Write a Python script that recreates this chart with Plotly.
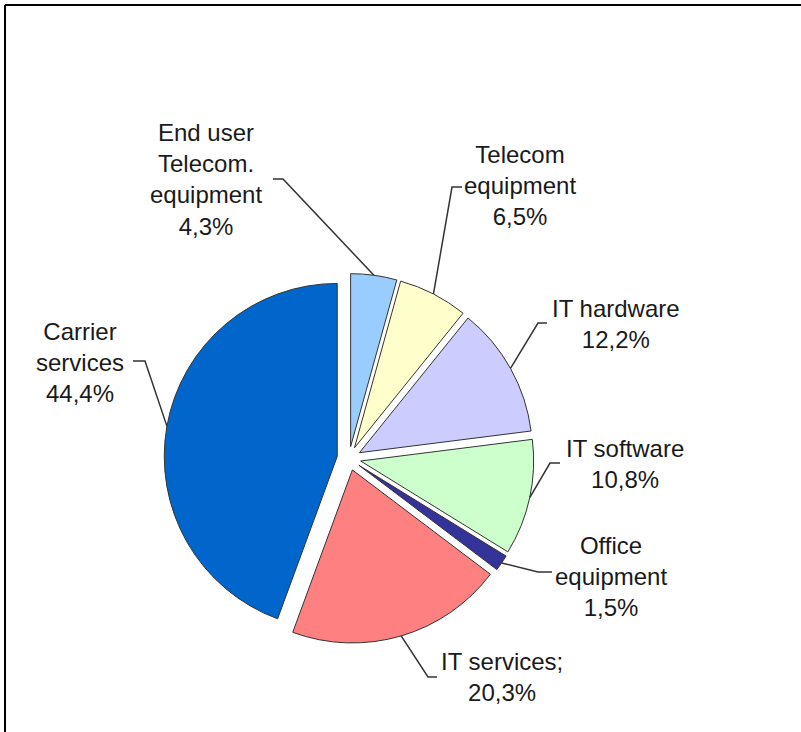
import math
import plotly.graph_objects as go

# ---- data ----
categories = ["End user Telecom. equipment", "Telecom equipment", "IT hardware",
              "IT software", "Office equipment", "IT services", "Carrier services"]
values = [4.3, 6.5, 12.2, 10.8, 1.5, 20.3, 44.4]
label_lines = [["End user", "Telecom.", "equipment"], ["Telecom", "equipment"],
               ["IT hardware"], ["IT software"], ["Office", "equipment"],
               ["IT services;"], ["Carrier", "services"]]
colors = ["#99CCFF", "#FFFFCC", "#CCCCFF", "#CCFFCC", "#333399", "#FF8080", "#0066CC"]

# ---- layout constants (pixels) ----
W, H = 801, 732
CX, CY = 349, 458.5       # pie centre
R = 173                   # pie radius
PULL = 0.069              # explode fraction
# label centre and leader (label end, knee) positions
label_pos = [(206, 179), (520, 186), (616, 324), (625, 464), (611, 576), (502, 677), (80, 362)]
leader_pts = [((273, 179), (283, 179)), ((462, 187), (452, 187)), ((547, 323), (538, 323)),
              ((560, 463), (550, 463)), ((552, 572), (538, 572)), ((437, 677), (428, 677)),
              ((133, 361), (145, 361))]

def px(x):
    return x / W

def py(y):
    return 1 - y / H

half = R * (1 + PULL)
dom_x = [px(CX - half), px(CX + half)]
dom_y = [py(CY + half), py(CY - half)]

fig = go.Figure(go.Pie(
    labels=categories, values=values, sort=False, direction="clockwise", rotation=0,
    marker=dict(colors=colors, line=dict(color="#333333", width=1)),
    pull=[PULL] * len(values), textinfo="none", hoverinfo="label+percent",
    domain=dict(x=dom_x, y=dom_y), showlegend=False,
))

total = sum(values)
cum = 0.0
annotations = []
shapes = []
for v, lines, (lx, ly), (p_end, p_knee) in zip(values, label_lines, label_pos, leader_pts):
    mid = (cum + v / 2) / total * 2 * math.pi
    cum += v
    dx, dy = math.sin(mid), -math.cos(mid)
    ox, oy = CX + PULL * R * dx, CY + PULL * R * dy
    ex, ey = ox + R * dx, oy + R * dy
    pct = f"{v:.1f}".replace(".", ",") + "%"
    text = "<br>".join(lines + [pct])
    annotations.append(dict(
        x=px(lx), y=py(ly), xref="paper", yref="paper", text=text, showarrow=False,
        xanchor="center", yanchor="middle", align="center",
        font=dict(family="Liberation Sans, Arial, sans-serif", size=24, color="#1a1a1a"),
    ))
    path = (f"M {px(p_end[0])},{py(p_end[1])} L {px(p_knee[0])},{py(p_knee[1])} "
            f"L {px(ex)},{py(ey)}")
    shapes.append(dict(type="path", xref="paper", yref="paper", path=path,
                       line=dict(color="#333333", width=1.5)))

# frame (top and left edges)
shapes.append(dict(type="line", xref="paper", yref="paper", x0=px(5), y0=py(5), x1=1.01, y1=py(5),
                   line=dict(color="#000000", width=2)))
shapes.append(dict(type="line", xref="paper", yref="paper", x0=px(5), y0=py(5), x1=px(5), y1=-0.01,
                   line=dict(color="#000000", width=2)))

fig.update_layout(
    width=W, height=H, margin=dict(l=0, r=0, t=0, b=0),
    paper_bgcolor="white", plot_bgcolor="white",
    annotations=annotations, shapes=shapes,
)
fig.write_html("out.html", config={"displayModeBar": False},
               post_script="document.body.style.margin='0';document.body.style.overflow='hidden';")
